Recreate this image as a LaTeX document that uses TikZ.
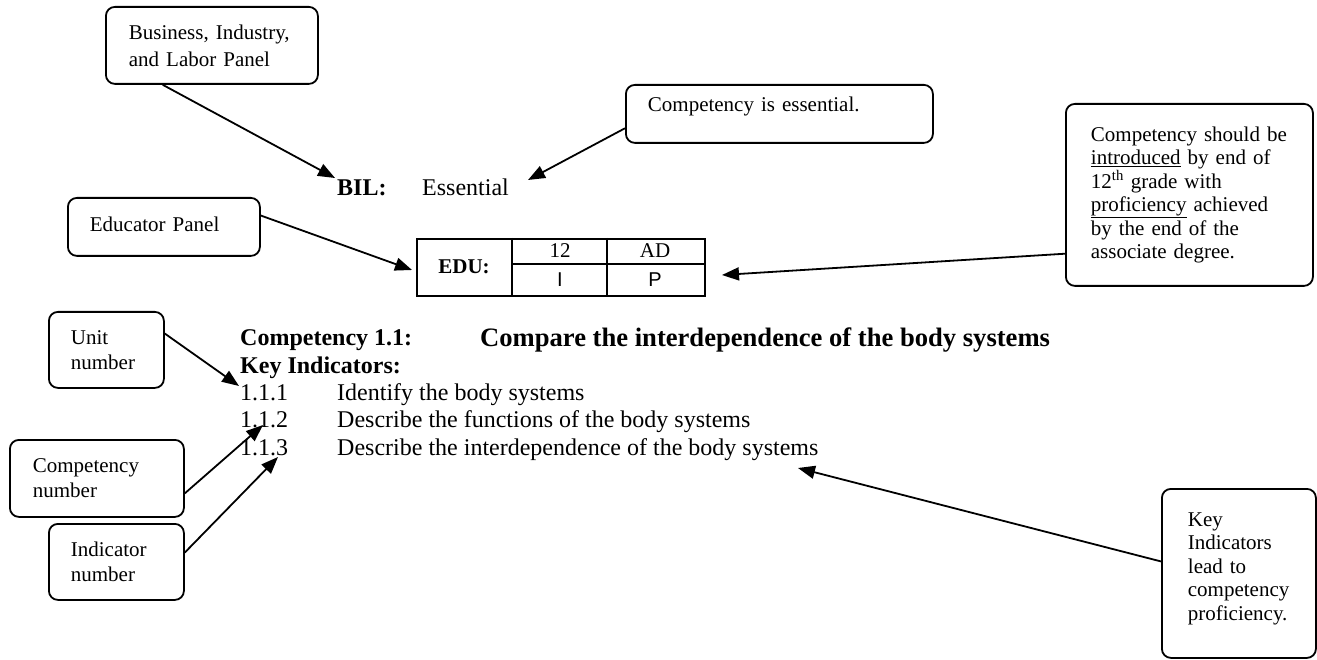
\documentclass[tikz,border=0pt]{standalone}
\usepackage{fontspec}
\setmainfont{Liberation Serif}
\newfontfamily\arialfont{Liberation Sans}
\usetikzlibrary{arrows.meta,calc}
\hyphenpenalty=10000
\exhyphenpenalty=10000
\tikzset{
  panel/.style={draw, line width=1.8pt, rounded corners=9pt, anchor=north west, align=left,
     inner ysep=0pt, font=\fontsize{21}{25}\selectfont},
  conn/.style={line width=1.8pt, -{Triangle[length=17pt,width=13pt]}},
  body/.style={anchor=base west, inner sep=0pt, font=\fontsize{24}{28}\selectfont},
  cell/.style={inner sep=0pt, font=\fontsize{21}{25}\selectfont}
}
\begin{document}
\begin{tikzpicture}[x=1pt,y=-1pt]
\useasboundingbox (0,0) rectangle (1317,660);
% panels
\node[panel, minimum width=212pt, minimum height=77pt, inner xsep=23pt, text width=166pt, font=\fontsize{21}{27}\selectfont] (bilp) at (105,6)
  {Business, Industry,\\and Labor Panel};
\node[panel, minimum width=307pt, minimum height=58pt, inner xsep=22pt, text width=263pt] (essp) at (625,84)
  {Competency is essential.\rule[-20pt]{0pt}{0pt}};
\node[panel, minimum width=192pt, minimum height=58pt, inner xsep=22pt, text width=148pt] (edup) at (67,197)
  {Educator Panel\rule[-6pt]{0pt}{0pt}};
\node[panel, minimum width=247pt, minimum height=182pt, inner xsep=25pt, text width=197pt, font=\fontsize{21}{23.4}\selectfont] (degp) at (1065,103)
  {Competency should be\\
   \underline{introduced} by end of\\
   12\textsuperscript{th} grade with\\
   \underline{proficiency} achieved\\
   by the end of the\\
   associate degree.};
\node[panel, minimum width=115pt, minimum height=76pt, inner xsep=22pt, text width=71pt] (unitp) at (48,311)
  {Unit\\number};
\node[panel, minimum width=174pt, minimum height=77pt, inner xsep=23pt, text width=128pt] (compp) at (9,439)
  {Competency\\number};
\node[panel, minimum width=135pt, minimum height=76pt, inner xsep=22pt, text width=91pt] (indp) at (48,523)
  {Indicator\\number};
\node[panel, minimum width=154pt, minimum height=169pt, inner xsep=26pt, text width=102pt, font=\fontsize{21}{23.5}\selectfont] (kip) at (1161,488)
  {Key\\Indicators\\lead to\\competency\\proficiency.\rule[-14pt]{0pt}{0pt}};
% BIL line
\node[body, font=\fontsize{24}{28}\selectfont\bfseries] (bil) at (337,196) {BIL:};
\node[body] (ess) at (422,196) {Essential};
% EDU table
\node[draw, line width=1.6pt, minimum width=288pt, minimum height=57pt, anchor=north west, inner sep=0pt] (edu) at (416,238) {};
\draw[line width=1.3pt] (512,238) -- (512,295) (607,238) -- (607,295) (512,264) -- (704,264);
\node[cell, font=\fontsize{21}{25}\selectfont\bfseries] (edul) at (464,267) {EDU:};
\node[cell] (c12) at (560,251) {12};
\node[cell] (cad) at (655,251) {AD};
\node[cell, font=\arialfont\fontsize{20}{24}\selectfont] (ci) at (560,280) {I};
\node[cell, font=\arialfont\fontsize{20}{24}\selectfont] (cp) at (655,280) {P};
% competency text
\node[body, font=\fontsize{24}{28}\selectfont\bfseries] (comp) at (240,345) {Competency 1.1:};
\node[body, font=\fontsize{26.6}{30}\selectfont\bfseries] (compt) at (480,346) {Compare the interdependence of the body systems};
\node[body, font=\fontsize{24}{28}\selectfont\bfseries] (keyi) at (240,373) {Key Indicators:};
\node[body] (n1) at (240,400) {1.1.1};
\node[body] (t1) at (337,400) {Identify the body systems};
\node[body] (n2) at (240,427) {1.1.2};
\node[body] (t2) at (337,427) {Describe the functions of the body systems};
\node[body] (n3) at (240,455) {1.1.3};
\node[body] (t3) at (337,455) {Describe the interdependence of the body systems};
% arrow targets
\coordinate (aBIL) at (335,178);
\coordinate (aESS) at (528,180);
\coordinate (aEDU) at (412,270);
\coordinate (aDEG) at (722,275);
\coordinate (aUNIT) at (239,386);
\coordinate (aCOMP) at (263,425);
\coordinate (aIND) at (278,457);
\coordinate (aKI) at (798,468);
% connectors
\draw[conn] ($(bilp.south west)!0.27!(bilp.south east)$) -- (aBIL);
\draw[conn] ($(essp.north west)!0.74!(essp.south west)$) -- (aESS);
\draw[conn] ($(edup.north east)!0.31!(edup.south east)$) -- (aEDU);
\draw[conn] ($(degp.north west)!0.82!(degp.south west)$) -- (aDEG);
\draw[conn] ($(unitp.north east)!0.29!(unitp.south east)$) -- (aUNIT);
\draw[conn] ($(compp.north east)!0.69!(compp.south east)$) -- (aCOMP);
\draw[conn] ($(indp.north east)!0.38!(indp.south east)$) -- (aIND);
\draw[conn] ($(kip.north west)!0.43!(kip.south west)$) -- (aKI);
\end{tikzpicture}
\end{document}
